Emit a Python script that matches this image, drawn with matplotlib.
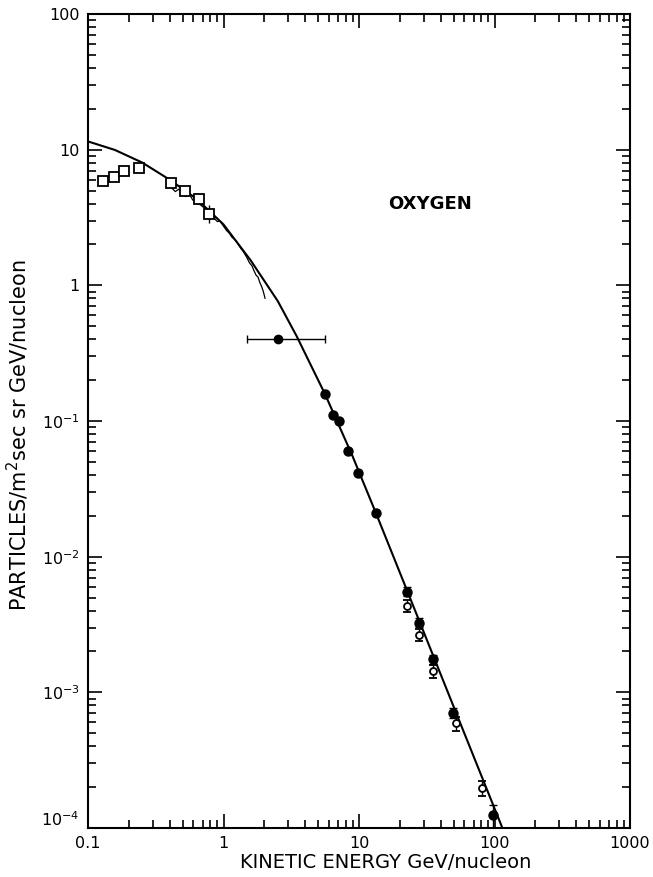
import matplotlib
matplotlib.use("Agg")
import matplotlib.pyplot as plt
import matplotlib.transforms as mtransforms
from matplotlib.ticker import FixedLocator, LogLocator, NullFormatter, FixedFormatter

# ---- data (kinetic energy in GeV/nucleon, flux in particles/m^2 sec sr GeV/nucleon) ----
# smooth spectrum
curve_e = [0.1, 0.158, 0.251, 0.398, 0.631, 1.0, 1.585, 2.512, 3.467, 5.61,
           8.91, 13.35, 22.5, 50.1, 113]
curve_f = [11.5, 9.95, 8.04, 6.03, 4.35, 2.81, 1.53, 0.767, 0.422, 0.158,
           0.0558, 0.0209, 0.00571, 7.78e-4, 1.03e-4]

# low-energy balloon points (open squares)
sq_e = [0.128, 0.156, 0.184, 0.237, 0.412, 0.517, 0.659, 0.782]
sq_f = [5.85, 6.3, 6.93, 7.33, 5.65, 4.97, 4.33, 3.36]
sq_lo = [0, 0, 0, 0, 0, 0, 0, 0.49]
sq_hi = [0, 0, 0, 0, 0, 0, 0, 0.55]

# continuous spectrometer trace
trace_e = [0.385, 0.398, 0.417, 0.441, 0.467, 0.494, 0.529, 0.560, 0.592, 0.634,
           0.678, 0.726, 0.773, 0.818, 0.866, 0.901, 0.942, 0.997, 1.055, 1.104,
           1.155, 1.223, 1.279, 1.339, 1.401, 1.483, 1.551, 1.623, 1.680, 1.738,
           1.797, 1.860, 1.913, 1.968, 2.025]
trace_f = [5.34, 5.50, 5.19, 4.91, 5.11, 4.77, 4.51, 4.72, 4.26, 4.07,
           3.91, 3.70, 3.59, 3.44, 3.07, 2.95, 2.98, 2.74, 2.53, 2.42,
           2.26, 2.16, 2.02, 1.88, 1.77, 1.61, 1.47, 1.39, 1.28, 1.19,
           1.15, 1.04, 0.979, 0.899, 0.803]

# wide-bin point with energy interval
wide_e = [2.54]
wide_f = [0.403]
wide_elo = [2.54 - 1.48]
wide_ehi = [5.61 - 2.54]

# high-energy measurements (filled circles)
fc_e = [5.61, 6.40, 7.16, 8.25, 9.83, 13.35, 22.5, 27.9, 35.0, 49.7, 97.0]
fc_f = [0.158, 0.111, 0.100, 0.0603, 0.0417, 0.0209, 0.00553, 0.00327, 0.00176, 7.1e-4, 1.25e-4]
fc_lo = [0, 0, 0, 0, 0, 0, 0.0004, 0.00025, 0.00013, 0.00006, 0.00003]
fc_hi = [0, 0, 0, 0, 0, 0, 0.0004, 0.00025, 0.00014, 0.00006, 0.000023]

# high-energy measurements (open circles)
oc_e = [22.5, 27.9, 35.0, 52.0, 80.4]
oc_f = [0.00434, 0.00265, 0.00144, 5.93e-4, 1.97e-4]
oc_lo = [0.00045, 0.00028, 0.00016, 0.00007, 0.000025]
oc_hi = [0.00045, 0.00028, 0.00016, 0.00007, 0.000025]

xticks = [0.1, 1, 10, 100, 1000]
xticklabels = ["0.1", "1", "10", "100", "1000"]
yticks = [1e-4, 1e-3, 1e-2, 1e-1, 1, 10, 100]
yticklabels = [r"$10^{-4}$", r"$10^{-3}$", r"$10^{-2}$", r"$10^{-1}$", "1", "10", "100"]

# ---- figure ----
plt.rcParams["font.family"] = ["DejaVu Sans"]
plt.rcParams["mathtext.default"] = "regular"

W, H = 653, 877
fig = plt.figure(figsize=(W / 100, H / 100), dpi=100)
ax = fig.add_axes([88 / W, 49 / H, 542 / W, 814 / H])
ax.set_xscale("log")
ax.set_yscale("log")
ax.set_xlim(0.1, 1000)
ax.set_ylim(1e-4, 100)

ax.plot(curve_e, curve_f, color="black", lw=1.5, zorder=3)
ax.plot(trace_e, trace_f, color="black", lw=0.9, zorder=3)

ax.errorbar(sq_e, sq_f, yerr=[sq_lo, sq_hi], fmt="s", ms=6.5, mfc="white",
            mec="black", mew=1.3, ecolor="black", elinewidth=1.0, capsize=0, zorder=4)
ax.errorbar(wide_e, wide_f, xerr=[wide_elo, wide_ehi], fmt="o", ms=6, color="black",
            elinewidth=1.0, capsize=3, capthick=1.0, zorder=4)
ax.errorbar(fc_e, fc_f, yerr=[fc_lo, fc_hi], fmt="o", ms=6.5, color="black",
            elinewidth=1.0, capsize=3, capthick=1.0, zorder=5)
ax.errorbar(oc_e, oc_f, yerr=[oc_lo, oc_hi], fmt="o", ms=5, mfc="white", mec="black",
            mew=1.3, ecolor="black", elinewidth=1.0, capsize=3, capthick=1.0, zorder=5)

ax.text(0.631, 0.767, "OXYGEN", transform=ax.transAxes, fontsize=13,
        fontweight="bold", ha="center", va="center")

for sp in ax.spines.values():
    sp.set_linewidth(1.5)

ax.xaxis.set_major_locator(FixedLocator(xticks))
ax.xaxis.set_major_formatter(FixedFormatter(xticklabels))
ax.yaxis.set_major_locator(FixedLocator(yticks))
ax.yaxis.set_major_formatter(FixedFormatter(yticklabels))
ax.xaxis.set_minor_locator(LogLocator(base=10, subs=range(2, 10), numticks=20))
ax.yaxis.set_minor_locator(LogLocator(base=10, subs=range(2, 10), numticks=20))
ax.xaxis.set_minor_formatter(NullFormatter())
ax.yaxis.set_minor_formatter(NullFormatter())
ax.tick_params(which="both", direction="in", top=True, right=True, width=1.2,
               labelsize=11.5)
ax.tick_params(which="major", length=10, pad=6)
ax.tick_params(which="minor", length=6)

# the lowest decade label sits a little above its tick
fig.canvas.draw()
lowest = ax.yaxis.get_majorticklabels()[0]
lowest.set_transform(lowest.get_transform() +
                     mtransforms.ScaledTranslation(0, 10 / 100, fig.dpi_scale_trans))

ax.set_xlabel("KINETIC ENERGY GeV/nucleon", fontsize=14)
ax.xaxis.set_label_coords(0.55, -0.031)
ax.set_ylabel(r"PARTICLES/m$^2$sec sr GeV/nucleon", fontsize=15)
ax.yaxis.set_label_coords(-0.105, 0.482)

fig.savefig("out.png", dpi=100)
